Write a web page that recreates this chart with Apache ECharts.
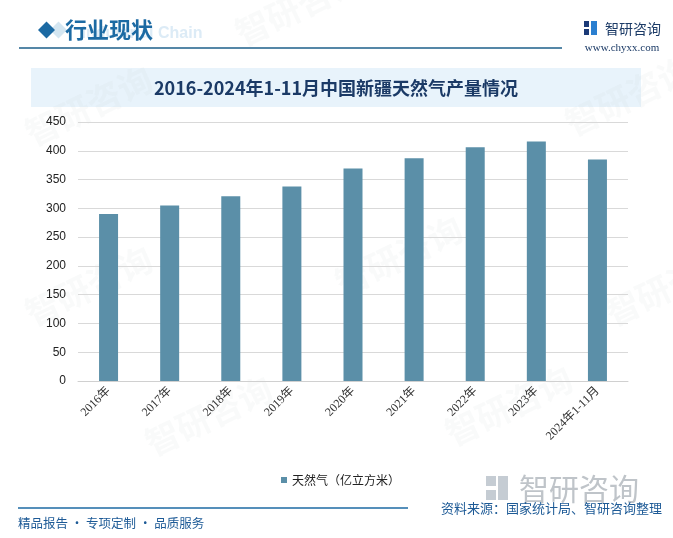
<!DOCTYPE html>
<html><head><meta charset="utf-8">
<script src="https://cdn.jsdelivr.net/npm/echarts@6/dist/echarts.min.js"></script>
<style>html,body{margin:0;padding:0;background:#fff}#c{width:673px;height:538px}</style>
</head><body><div id="c"></div>
<script>
const categories = ['2016年','2017年','2018年','2019年','2020年','2021年','2022年','2023年','2024年1-11月'];
const gasValues = [290, 305, 321, 338, 369, 387, 406, 416, 385];
const seriesName = '天然气（亿立方米）';
const yTicks = {min: 0, max: 450, interval: 50};

const chart = echarts.init(document.getElementById('c'));
const cjk = '"Noto Sans CJK SC", sans-serif';
const serif = '"Liberation Serif", "DejaVu Serif", "Noto Sans CJK SC", serif';
const wm = [];
const wmPos = [[20,120],[230,20],[560,110],[20,300],[330,270],[600,300],[140,430],[440,420]];
wmPos.forEach(p => wm.push({type:'text', x:p[0], y:p[1], rotation: Math.PI/7, z:-1,
  style:{text:'智研咨询', font:'bold 34px '+cjk, fill:'rgba(200,205,210,0.10)'}}));
chart.setOption({
  animation:false,
  backgroundColor:'#fff',
  grid:{left:78, right:45, top:122, bottom:157},
  xAxis:{type:'category', data:categories,
    axisLine:{lineStyle:{color:'#d0d0d0'}}, axisTick:{show:false},
    axisLabel:{rotate:45, interval:0, color:'#333', fontSize:12, fontFamily:serif, margin:8}},
  yAxis:{type:'value', min:yTicks.min, max:yTicks.max, interval:yTicks.interval,
    axisLine:{show:false}, axisTick:{show:false},
    splitLine:{lineStyle:{color:'#d9d9d9'}},
    axisLabel:{color:'#222', fontSize:12, fontFamily:'"Liberation Sans", Arial, sans-serif', margin:12}},
  legend:{data:[seriesName], left:276, top:469, icon:'rect', itemWidth:6, itemHeight:6, itemGap:4,
    textStyle:{color:'#222', fontSize:12, fontFamily:cjk}},
  series:[{name:seriesName, type:'bar', data:gasValues, barWidth:19,
    itemStyle:{color:'#5b8fa8'}}],
  graphic: wm.concat([
    {type:'rect', shape:{x:31,y:68,width:610,height:39}, style:{fill:'#e8f3fb'}, z:-2},
    {type:'text', x:336, y:88, style:{text:'2016-2024年1-11月中国新疆天然气产量情况', font:'bold 18px '+cjk, fill:'#1b3a66', textAlign:'center', textVerticalAlign:'middle'}},
    {type:'rect', shape:{x:0,y:0,width:12,height:12}, x:50, y:30, rotation:Math.PI/4, style:{fill:'#d4e6f1'}},
    {type:'rect', shape:{x:0,y:0,width:12,height:12}, x:38, y:30, rotation:Math.PI/4, style:{fill:'#1c6aa3'}},
    {type:'text', x:142, y:34, style:{text:'Industrial Chain', font:'bold 16px "Liberation Sans", Arial, sans-serif', fill:'#dcebf6', textAlign:'center', textVerticalAlign:'middle'}},
    {type:'text', x:65, y:30, style:{text:'行业现状', font:'bold 22px '+cjk, fill:'#1c6aa3', textVerticalAlign:'middle'}},
    {type:'line', shape:{x1:19,y1:48,x2:562,y2:48}, style:{stroke:'#1d5f8a', lineWidth:1.5}},
    {type:'rect', shape:{x:584,y:21,width:5,height:6}, style:{fill:'#1b3a77'}},
    {type:'rect', shape:{x:591,y:21,width:6,height:14}, style:{fill:'#2a7fd0'}},
    {type:'rect', shape:{x:584,y:29,width:5,height:6}, style:{fill:'#1b3a77'}},
    {type:'text', x:605, y:29, style:{text:'智研咨询', font:'14px '+cjk, fill:'#1b3a66', textVerticalAlign:'middle'}},
    {type:'text', x:622, y:48, style:{text:'www.chyxx.com', font:'11px '+serif, fill:'#1b3a66', textAlign:'center', textVerticalAlign:'middle'}},
    {type:'rect', shape:{x:486,y:476,width:10,height:10}, style:{fill:'#c5ccd3'}},
    {type:'rect', shape:{x:498,y:476,width:10,height:24}, style:{fill:'#c5ccd3'}},
    {type:'rect', shape:{x:486,y:490,width:10,height:10}, style:{fill:'#c5ccd3'}},
    {type:'text', x:519, y:489, style:{text:'智研咨询', font:'30px '+cjk, fill:'#bfc4c9', textVerticalAlign:'middle'}},
    {type:'line', shape:{x1:18,y1:508,x2:408,y2:508}, style:{stroke:'#1d6aa3', lineWidth:1.5}},
    {type:'text', x:18, y:523, style:{text:'精品报告 · 专项定制 · 品质服务', font:'12.5px '+cjk, fill:'#1d5a96', textVerticalAlign:'middle'}},
    {type:'text', x:662, y:508, style:{text:'资料来源：国家统计局、智研咨询整理', font:'13px '+cjk, fill:'#1d5a96', textAlign:'right', textVerticalAlign:'middle'}}
  ])
});
</script></body></html>
